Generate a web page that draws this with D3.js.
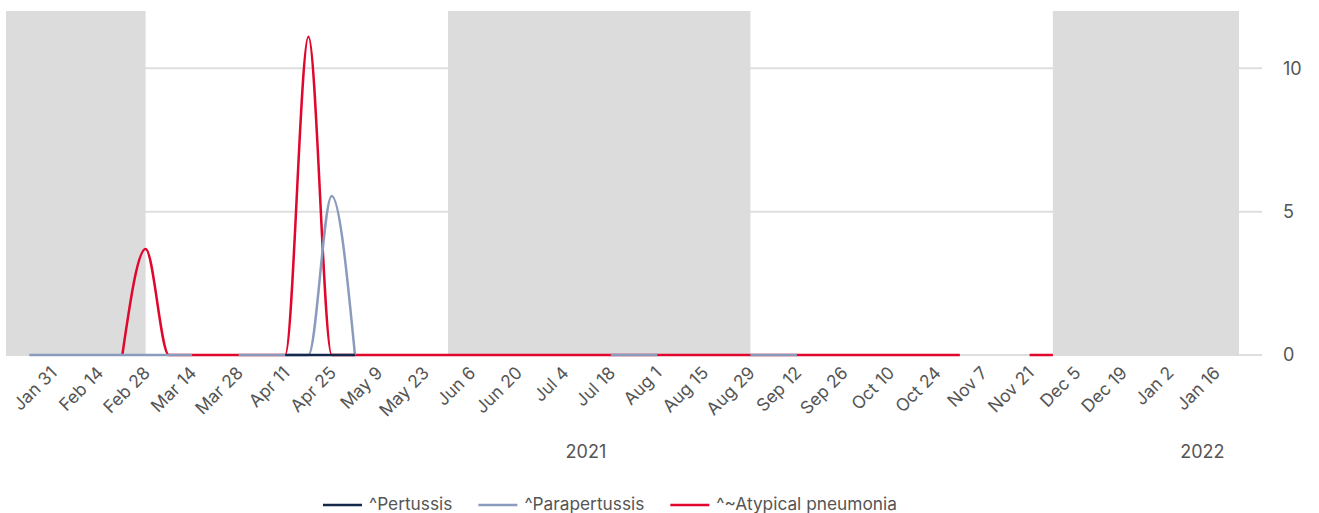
<!DOCTYPE html>
<html>
<head>
<meta charset="utf-8">
<script src="https://cdn.jsdelivr.net/npm/d3@7"></script>
<style>
  body { margin: 0; background: #fff; }
  text { font-family: Inter, "Noto Sans", sans-serif; fill: #555; }
</style>
</head>
<body>
<div id="chart"></div>
<script>
  // weekly dates (week starting)
  var weeks = ["2021-01-24","2021-01-31","2021-02-07","2021-02-14","2021-02-21","2021-02-28","2021-03-07",
    "2021-03-14","2021-03-21","2021-03-28","2021-04-04","2021-04-11","2021-04-18","2021-04-25","2021-05-02",
    "2021-05-09","2021-05-16","2021-05-23","2021-05-30","2021-06-06","2021-06-13","2021-06-20","2021-06-27",
    "2021-07-04","2021-07-11","2021-07-18","2021-07-25","2021-08-01","2021-08-08","2021-08-15","2021-08-22",
    "2021-08-29","2021-09-05","2021-09-12","2021-09-19","2021-09-26","2021-10-03","2021-10-10","2021-10-17",
    "2021-10-24","2021-10-31","2021-11-07","2021-11-14","2021-11-21","2021-11-28"];

  var n = null;
  var pertussis = [n,n,n,n,n,n,n, n,n,n,n,0,0,0,0, n,n,n,n,n,n,n,n, n,n,n,n,n,n,n,n, n,n,n,n,n,n,n,n, n,n,n,n,n,n];
  var parapertussis = [0,0,0,0,0,0,0, 0,n,0,0,0,0,5.55,0, n,n,n,n,n,n,n,n, n,n,0,0,0,n,n,n, 0,0,0,n,n,n,n,n, n,n,n,n,n,n];
  var atypical = [n,n,n,n,0,3.7,0, 0,0,0,0,0,11.1,0,0, 0,0,0,0,0,0,0,0, 0,0,0,0,0,0,0,0, 0,0,0,0,0,0,0,0, 0,0,n,n,0,0];

  var seriesNames = ["^Pertussis", "^Parapertussis", "^~Atypical pneumonia"];
  var seriesColors = ["#13284a", "#8a9bbd", "#e0062c"];

  var tickDates = ["2021-01-31","2021-02-14","2021-02-28","2021-03-14","2021-03-28","2021-04-11","2021-04-25",
    "2021-05-09","2021-05-23","2021-06-06","2021-06-20","2021-07-04","2021-07-18","2021-08-01","2021-08-15",
    "2021-08-29","2021-09-12","2021-09-26","2021-10-10","2021-10-24","2021-11-07","2021-11-21","2021-12-05",
    "2021-12-19","2022-01-02","2022-01-16"];
  var yTicks = [0, 5, 10];

  // shaded quarters
  var bands = [["2021-01-17","2021-02-28"], ["2021-05-30","2021-08-29"], ["2021-11-28","2022-01-23"]];
  var years = [["2021", "2021-01-17", "2022-01-01"], ["2022", "2022-01-01", "2022-01-23"]];

  var width = 1319, height = 513;
  var parse = d3.timeParse("%Y-%m-%d");

  var svg = d3.select("#chart").append("svg").attr("width", width).attr("height", height);

  var x = d3.scaleTime()
      .domain([parse("2021-01-17"), parse("2022-01-23")])
      .range([6, 1239]);
  var y = d3.scaleLinear()
      .domain([0, 12])
      .range([355, 11]);

  // grid lines (extend past plot as ticks on the right)
  svg.append("g").selectAll("line")
      .data(yTicks)
      .enter().append("line")
      .attr("x1", 6).attr("x2", 1262)
      .attr("y1", function(d) { return y(d); })
      .attr("y2", function(d) { return y(d); })
      .style("stroke", "#dedede")
      .style("stroke-width", 2);

  svg.append("g").selectAll("rect")
      .data(bands)
      .enter().append("rect")
      .attr("x", function(d) { return x(parse(d[0])); })
      .attr("width", function(d) { return x(parse(d[1])) - x(parse(d[0])); })
      .attr("y", y(12))
      .attr("height", y(0) - y(12) + 1)
      .style("fill", "#dcdcdc");

  // y labels on the right
  svg.append("g").selectAll("text")
      .data(yTicks)
      .enter().append("text")
      .attr("x", 1283)
      .attr("y", function(d) { return y(d); })
      .attr("dy", "0.35em")
      .style("font-size", "18px")
      .text(function(d) { return d; });

  // x axis labels
  var xAxis = d3.axisBottom(x)
      .tickValues(tickDates.map(parse))
      .tickFormat(d3.timeFormat("%b %-d"))
      .tickSize(0);
  var gx = svg.append("g")
      .attr("transform", "translate(0," + y(0) + ")")
      .call(xAxis);
  gx.select(".domain").remove();
  gx.selectAll("text")
      .attr("x", 0).attr("y", 0).attr("dy", null)
      .attr("text-anchor", "end")
      .attr("transform", "translate(5,19) rotate(-45)")
      .style("font-size", "17.5px")
      .style("font-family", null)
      .attr("fill", null);

  svg.append("g").selectAll("text")
      .data(years)
      .enter().append("text")
      .attr("x", function(d) { return (x(parse(d[1])) + x(parse(d[2]))) / 2; })
      .attr("y", 458)
      .attr("text-anchor", "middle")
      .style("font-size", "18px")
      .text(function(d) { return d[0]; });

  // lines, pneumonia drawn first so the others sit on top at zero
  var data = [pertussis, parapertussis, atypical];
  var line = d3.line()
      .defined(function(d) { return d != null; })
      .x(function(d, i) { return x(parse(weeks[i])); })
      .y(function(d) { return y(d); })
      .curve(d3.curveMonotoneX);

  [2, 1, 0].forEach(function(s) {
    svg.append("path")
        .datum(data[s])
        .attr("d", line)
        .style("fill", "none")
        .style("stroke", seriesColors[s])
        .style("stroke-width", 2.5);
  });

  // legend
  var lx = 323;
  seriesNames.forEach(function(name, i) {
    svg.append("line")
        .attr("x1", lx).attr("x2", lx + 39)
        .attr("y1", 505).attr("y2", 505)
        .style("stroke", seriesColors[i])
        .style("stroke-width", 2.5);
    var t = svg.append("text")
        .attr("x", lx + 46)
        .attr("y", 510)
        .style("font-size", "17.3px")
        .text(name);
    lx = lx + 46 + t.node().getComputedTextLength() + 26;
  });
</script>
</body>
</html>
